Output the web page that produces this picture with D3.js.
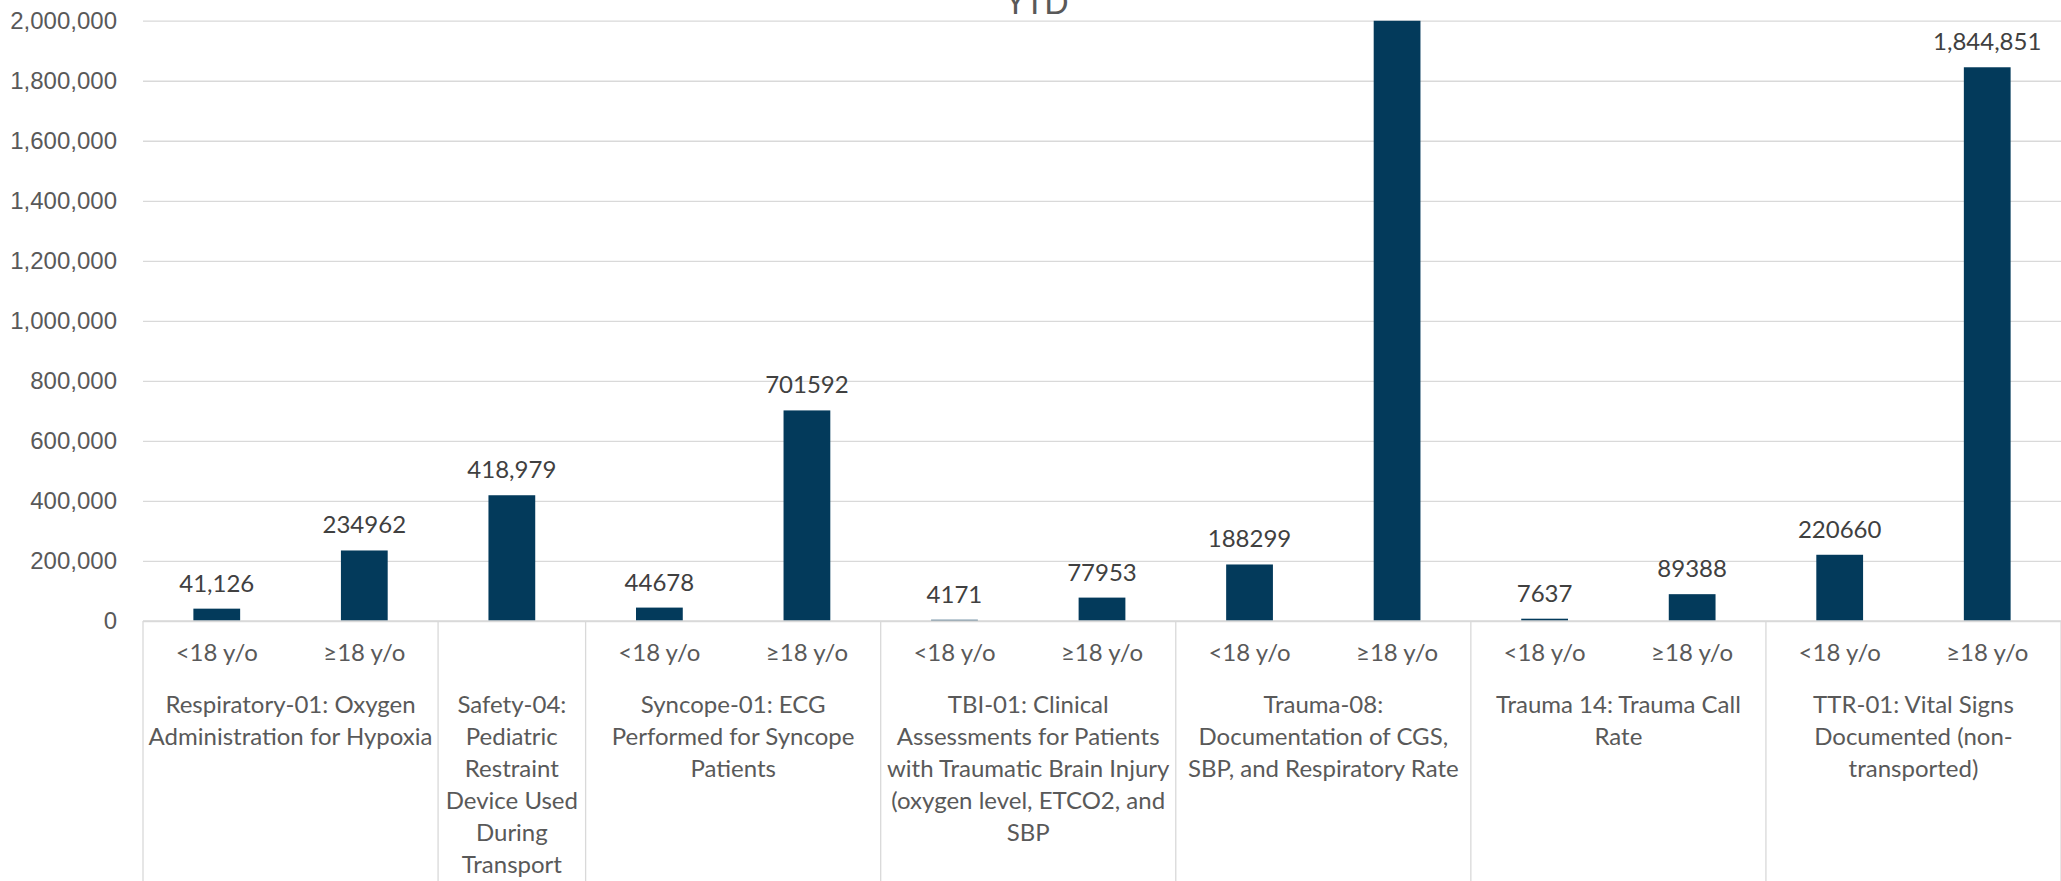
<!DOCTYPE html>
<html>
<head>
<meta charset="utf-8">
<script src="https://cdn.jsdelivr.net/npm/d3@7"></script>
<style>
  body { margin: 0; background: #fff; }
  svg { display: block; font-family: Lato, "Open Sans", sans-serif; }
</style>
</head>
<body>
<svg id="chart" width="2061" height="881"></svg>
<script>
// datos del grafico
let grupos = [
    ["Respiratory-01: Oxygen", "Administration for Hypoxia"],
    ["Safety-04:", "Pediatric", "Restraint", "Device Used", "During", "Transport"],
    ["Syncope-01: ECG", "Performed for Syncope", "Patients"],
    ["TBI-01: Clinical", "Assessments for Patients", "with Traumatic Brain Injury", "(oxygen level, ETCO2, and", "SBP"],
    ["Trauma-08:", "Documentation of CGS,", "SBP, and Respiratory Rate"],
    ["Trauma 14: Trauma Call", "Rate"],
    ["TTR-01: Vital Signs", "Documented (non-", "transported)"]
];
let tamGrupos = [2, 1, 2, 2, 2, 2, 2];
let edades = ["<18 y/o", "≥18 y/o", "", "<18 y/o", "≥18 y/o", "<18 y/o", "≥18 y/o",
    "<18 y/o", "≥18 y/o", "<18 y/o", "≥18 y/o", "<18 y/o", "≥18 y/o"];
let valores = [41126, 234962, 418979, 44678, 701592, 4171, 77953, 188299, 2400000, 7637, 89388, 220660, 1844851];
let etiquetas = ["41,126", "234962", "418,979", "44678", "701592", "4171", "77953", "188299", "",
    "7637", "89388", "220660", "1,844,851"];
let ticksY = [0, 200000, 400000, 600000, 800000, 1000000, 1200000, 1400000, 1600000, 1800000, 2000000];

let izq = 143, der = 2061, arriba = 20.7, base = 621;
let gris = "#d9d9d9";

let svg = d3.select("#chart");

let x = d3.scaleBand()
    .domain(d3.range(valores.length))
    .range([izq, der])
    .paddingInner(0.683)
    .paddingOuter(0.683 / 2);

let y = d3.scaleLinear()
    .domain([0, 2000000])
    .range([base, arriba]);

// titulo (cortado arriba como en la imagen)
svg.append("text")
    .attr("x", 1037)
    .attr("y", 14)
    .attr("text-anchor", "middle")
    .style("font-size", "32px")
    .style("fill", "#595959")
    .text("YTD");

// eje y con lineas de cuadricula
let ejeY = svg.append("g")
    .attr("transform", `translate(${izq},0)`)
    .call(d3.axisLeft(y).tickValues(ticksY).tickFormat(d3.format(",")).tickSize(-(der - izq)).tickPadding(26));
ejeY.select(".domain").remove();
ejeY.selectAll(".tick line").attr("stroke", gris).attr("stroke-width", 1.3);
ejeY.selectAll(".tick text").style("font-size", "24px").style("fill", "#595959");

// barras recortadas al area del grafico
svg.append("clipPath").attr("id", "recorte")
    .append("rect").attr("x", izq).attr("y", arriba).attr("width", der - izq).attr("height", base - arriba);

let bw = x.bandwidth();
svg.append("g").attr("clip-path", "url(#recorte)")
    .selectAll("rect")
    .data(valores)
    .enter()
    .append("rect")
    .attr("x", (d, i) => x(i))
    .attr("width", bw)
    .attr("y", (d) => y(d))
    .attr("height", (d) => base - y(d))
    .attr("fill", "#033a5b");

// etiquetas de valores
svg.append("g")
    .selectAll("text")
    .data(valores)
    .enter()
    .append("text")
    .attr("x", (d, i) => x(i) + bw / 2)
    .attr("y", (d) => y(d) - 17)
    .attr("text-anchor", "middle")
    .style("font-size", "24px")
    .style("fill", "#404040")
    .text((d, i) => etiquetas[i]);

// linea base del eje x
svg.append("line")
    .attr("x1", izq).attr("x2", der)
    .attr("y1", base).attr("y2", base)
    .attr("stroke", gris).attr("stroke-width", 1.3);

// etiquetas de edad
svg.append("g")
    .selectAll("text")
    .data(edades)
    .enter()
    .append("text")
    .attr("x", (d, i) => x(i) + bw / 2)
    .attr("y", 661)
    .attr("text-anchor", "middle")
    .style("font-size", "24px")
    .style("fill", "#595959")
    .text((d) => d);

// limites de cada grupo
let inicio = [0];
tamGrupos.forEach((n, i) => inicio.push(inicio[i] + n));
let paso = x.step();
let posX = (k) => izq + k * paso;

svg.append("g")
    .selectAll("line")
    .data(inicio)
    .enter()
    .append("line")
    .attr("x1", (k) => posX(k)).attr("x2", (k) => posX(k))
    .attr("y1", base).attr("y2", 881)
    .attr("stroke", gris).attr("stroke-width", 1.3);

// nombres de los grupos
let g = svg.append("g")
    .selectAll("text")
    .data(grupos)
    .enter()
    .append("text")
    .attr("text-anchor", "middle")
    .style("font-size", "24px")
    .style("fill", "#595959");

g.selectAll("tspan")
    .data((d, i) => d.map((t) => ({ t: t, cx: posX(inicio[i]) + tamGrupos[i] * paso / 2 })))
    .enter()
    .append("tspan")
    .attr("x", (d) => d.cx)
    .attr("y", (d, j) => 713 + j * 32)
    .text((d) => d.t);
</script>
</body>
</html>
